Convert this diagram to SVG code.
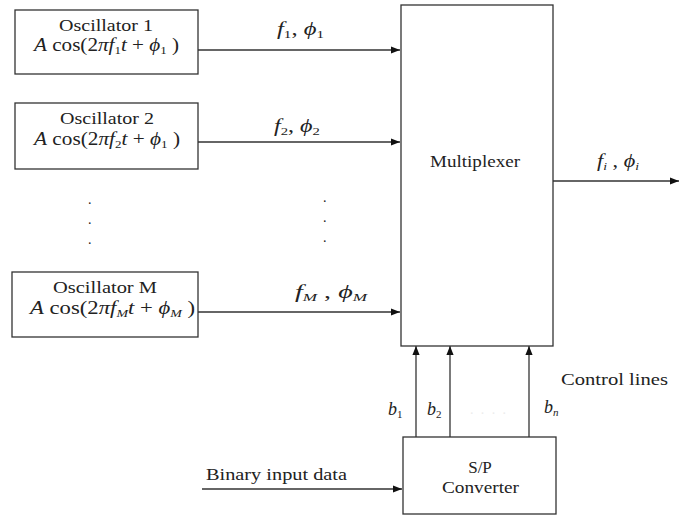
<svg xmlns="http://www.w3.org/2000/svg" width="680" height="516" viewBox="0 0 680 516">
<style>
.box{fill:#fff;stroke:#333;stroke-width:1.3}
.ln{stroke:#333;stroke-width:1.3;fill:none}
text{font-family:"Liberation Serif","Times New Roman",serif;fill:#222}
.t{font-size:17px}
.m{font-size:18px;font-style:italic}
.s{font-size:11px;font-style:italic}
.n{font-style:normal}
.d{font-size:14px}
</style>
<defs>
<marker id="ah" viewBox="0 0 10 10" refX="10" refY="5" markerWidth="9" markerHeight="9" markerUnits="userSpaceOnUse" orient="auto">
<path d="M0,1 L10,5 L0,9 z" fill="#111"/>
</marker>
</defs>
<rect width="680" height="516" fill="#fff"/>
<g id="connectors">
<line class="ln" x1="198" y1="50" x2="400" y2="50" marker-end="url(#ah)"/>
<line class="ln" x1="198" y1="142" x2="400" y2="142" marker-end="url(#ah)"/>
<line class="ln" x1="198" y1="312" x2="400" y2="312" marker-end="url(#ah)"/>
<line class="ln" x1="553" y1="181" x2="679" y2="181" marker-end="url(#ah)"/>
<line class="ln" x1="416" y1="437" x2="416" y2="346" marker-end="url(#ah)"/>
<line class="ln" x1="450" y1="437" x2="450" y2="346" marker-end="url(#ah)"/>
<line class="ln" x1="529" y1="437" x2="529" y2="346" marker-end="url(#ah)"/>
<line class="ln" x1="202" y1="489" x2="402" y2="489" marker-end="url(#ah)"/>
<text class="m" x="277" y="35" textLength="47" lengthAdjust="spacingAndGlyphs">f<tspan class="s n" dy="3">1</tspan><tspan dy="-3" class="n">, </tspan>ϕ<tspan class="s n" dy="3">1</tspan></text>
<text class="m" x="274" y="132" textLength="46" lengthAdjust="spacingAndGlyphs">f<tspan class="s n" dy="3">2</tspan><tspan dy="-3" class="n">, </tspan>ϕ<tspan class="s n" dy="3">2</tspan></text>
<text class="m" x="295" y="298" textLength="72" lengthAdjust="spacingAndGlyphs">f<tspan class="s" dy="3">M</tspan><tspan dy="-3" class="n"> , </tspan>ϕ<tspan class="s" dy="3">M</tspan></text>
<text class="m" x="597" y="167" textLength="42" lengthAdjust="spacingAndGlyphs">f<tspan class="s" dy="3">i</tspan><tspan dy="-3" class="n"> , </tspan>ϕ<tspan class="s" dy="3">i</tspan></text>
<text class="m" x="388" y="415">b<tspan class="s n" dy="3">1</tspan></text>
<text class="m" x="427" y="415">b<tspan class="s n" dy="3">2</tspan></text>
<text class="d" x="470" y="414" style="fill:#ececec" textLength="36" lengthAdjust="spacing">....</text>
<text class="m" x="544" y="413">b<tspan class="s" dy="3">n</tspan></text>
<text class="t" x="561" y="385" textLength="107" lengthAdjust="spacingAndGlyphs">Control lines</text>
<text class="t" x="206" y="480" textLength="141" lengthAdjust="spacingAndGlyphs">Binary input data</text>
<g class="dots">
<text class="d" x="88" y="204">.</text>
<text class="d" x="88" y="224">.</text>
<text class="d" x="88" y="244">.</text>
<text class="d" x="323" y="202">.</text>
<text class="d" x="323" y="222">.</text>
<text class="d" x="323" y="242">.</text>
</g>
</g>
<g id="osc1">
<rect class="box" x="15" y="10" width="183" height="64"/>
<text class="t" x="59" y="31" textLength="94" lengthAdjust="spacingAndGlyphs">Oscillator 1</text>
<text class="m" x="34" y="51" textLength="145" lengthAdjust="spacingAndGlyphs">A<tspan class="n"> cos(2</tspan>πf<tspan class="s n" dy="3">1</tspan><tspan dy="-3">t</tspan><tspan class="n"> + </tspan>ϕ<tspan class="s n" dy="3">1</tspan><tspan class="n" dy="-3"> )</tspan></text>
</g>
<g id="osc2">
<rect class="box" x="15" y="103" width="183" height="66"/>
<text class="t" x="60" y="124" textLength="94" lengthAdjust="spacingAndGlyphs">Oscillator 2</text>
<text class="m" x="34" y="145" textLength="146" lengthAdjust="spacingAndGlyphs">A<tspan class="n"> cos(2</tspan>πf<tspan class="s n" dy="3">2</tspan><tspan dy="-3">t</tspan><tspan class="n"> + </tspan>ϕ<tspan class="s n" dy="3">1</tspan><tspan class="n" dy="-3"> )</tspan></text>
</g>
<g id="oscM">
<rect class="box" x="12" y="272" width="186" height="65"/>
<text class="t" x="53" y="293" textLength="104" lengthAdjust="spacingAndGlyphs">Oscillator M</text>
<text class="m" x="30" y="314" textLength="165" lengthAdjust="spacingAndGlyphs">A<tspan class="n"> cos(2</tspan>πf<tspan class="s" dy="3">M</tspan><tspan dy="-3">t</tspan><tspan class="n"> + </tspan>ϕ<tspan class="s" dy="3">M</tspan><tspan class="n" dy="-3">  )</tspan></text>
</g>
<g id="mux">
<rect class="box" x="401" y="5" width="152" height="341"/>
<text class="t" x="430" y="167" textLength="90" lengthAdjust="spacingAndGlyphs">Multiplexer</text>
</g>
<g id="sp">
<rect class="box" x="403" y="437" width="153" height="77"/>
<text class="t" x="480" y="473" text-anchor="middle">S/P</text>
<text class="t" x="442" y="493" textLength="77" lengthAdjust="spacingAndGlyphs">Converter</text>
</g>
</svg>
